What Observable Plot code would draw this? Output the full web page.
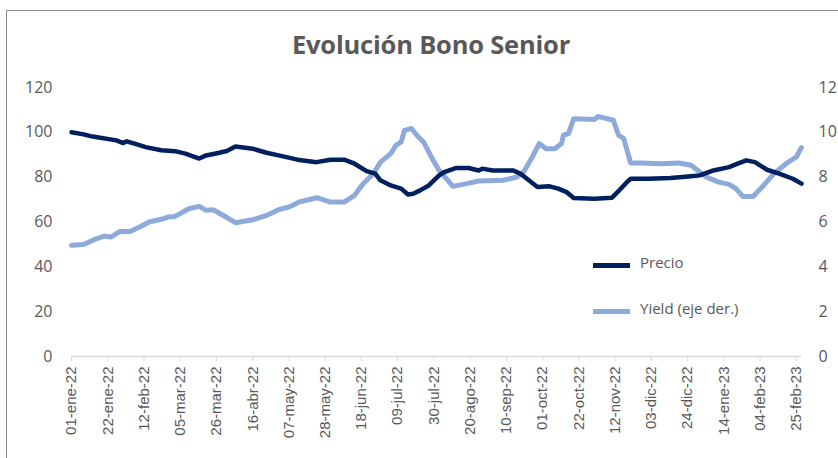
<!DOCTYPE html>
<html><head><meta charset="utf-8">
<script src="https://cdn.jsdelivr.net/npm/d3@7"></script>
<script src="https://cdn.jsdelivr.net/npm/@observablehq/plot@0.6"></script>
<style>
body{margin:0;background:#fff;}
#wrap{position:relative;width:838px;height:458px;overflow:hidden;}
#frame{position:absolute;left:6px;top:10px;width:900px;height:500px;border:1px solid #8c8c8c;box-sizing:border-box;}
#title{position:absolute;left:0;width:862px;top:27px;text-align:center;font:700 25.5px "Open Sans";color:#595959;white-space:nowrap;letter-spacing:-0.2px;}
#chart{position:absolute;left:0;top:0;}
.leg{position:absolute;left:593px;font:15px "Open Sans";color:#595959;white-space:nowrap;}
.leg span.bar{position:absolute;left:0;width:37px;height:5px;}
.leg span.txt{position:absolute;left:47px;top:-11px;}
</style></head><body>
<div id="wrap"><div id="frame"></div><div id="chart"></div><div id="title">Evolución Bono Senior</div></div>
<script>
const precioFechas = ["2022-01-01","2022-01-08","2022-01-12","2022-01-15","2022-01-27","2022-01-31","2022-02-02","2022-02-08","2022-02-13","2022-02-22","2022-03-02","2022-03-08","2022-03-16","2022-03-20","2022-03-27","2022-04-01","2022-04-06","2022-04-16","2022-04-24","2022-05-03","2022-05-12","2022-05-23","2022-05-31","2022-06-08","2022-06-14","2022-06-21","2022-06-26","2022-06-29","2022-07-05","2022-07-11","2022-07-15","2022-07-18","2022-07-22","2022-07-27","2022-08-02","2022-08-05","2022-08-12","2022-08-19","2022-08-25","2022-08-27","2022-09-02","2022-09-14","2022-09-18","2022-09-23","2022-09-28","2022-10-05","2022-10-10","2022-10-15","2022-10-19","2022-10-31","2022-11-10","2022-11-14","2022-11-18","2022-11-21","2022-12-01","2022-12-14","2022-12-26","2022-12-31","2023-01-08","2023-01-17","2023-01-22","2023-01-27","2023-02-01","2023-02-08","2023-02-15","2023-02-23","2023-02-28"];
const precioValores = [100,99.1,98.3,97.9,96.4,95.2,96.0,94.6,93.4,92.0,91.6,90.5,88.3,89.7,90.8,91.7,93.7,92.7,90.9,89.4,87.8,86.7,87.8,87.8,86.0,82.7,81.6,78.6,76.3,74.9,72.3,72.6,74.1,76.3,80.8,82.3,84.1,84.1,83.0,83.8,83.0,83.0,81.6,78.6,75.6,75.9,74.9,73.3,70.7,70.4,70.8,73.8,77.1,79.3,79.3,79.6,80.4,80.8,83.0,84.5,86.0,87.5,86.7,83.3,81.6,79.3,77.1];
const yieldFechas = ["2022-01-01","2022-01-08","2022-01-14","2022-01-20","2022-01-24","2022-01-29","2022-02-04","2022-02-10","2022-02-15","2022-02-22","2022-02-26","2022-03-02","2022-03-10","2022-03-16","2022-03-20","2022-03-24","2022-03-30","2022-04-06","2022-04-16","2022-04-24","2022-05-01","2022-05-07","2022-05-13","2022-05-23","2022-05-25","2022-05-31","2022-06-08","2022-06-14","2022-06-19","2022-06-25","2022-06-29","2022-07-05","2022-07-08","2022-07-11","2022-07-13","2022-07-17","2022-07-21","2022-07-24","2022-07-28","2022-08-02","2022-08-05","2022-08-10","2022-08-18","2022-08-25","2022-09-08","2022-09-16","2022-09-20","2022-09-25","2022-09-29","2022-10-03","2022-10-08","2022-10-12","2022-10-13","2022-10-16","2022-10-19","2022-10-31","2022-11-02","2022-11-11","2022-11-14","2022-11-17","2022-11-21","2022-11-27","2022-12-09","2022-12-19","2022-12-26","2023-01-04","2023-01-11","2023-01-17","2023-01-21","2023-01-25","2023-01-31","2023-02-06","2023-02-12","2023-02-19","2023-02-25","2023-02-28"];
const yieldValores = [4.96,5.0,5.21,5.37,5.33,5.58,5.58,5.80,6.0,6.12,6.22,6.25,6.59,6.70,6.52,6.55,6.29,5.97,6.10,6.29,6.55,6.67,6.89,7.08,7.04,6.89,6.89,7.19,7.71,8.16,8.67,9.05,9.42,9.57,10.09,10.17,9.79,9.57,8.97,8.30,8.04,7.59,7.71,7.83,7.86,8.00,8.23,8.90,9.50,9.27,9.27,9.50,9.87,9.94,10.61,10.57,10.71,10.54,9.87,9.72,8.63,8.63,8.60,8.63,8.53,8.00,7.78,7.68,7.49,7.14,7.14,7.63,8.16,8.60,8.90,9.32];
const tickFechas = ["2022-01-01","2022-01-22","2022-02-12","2022-03-05","2022-03-26","2022-04-16","2022-05-07","2022-05-28","2022-06-18","2022-07-09","2022-07-30","2022-08-20","2022-09-10","2022-10-01","2022-10-22","2022-11-12","2022-12-03","2022-12-24","2023-01-14","2023-02-04","2023-02-25"];
const tickEtiquetas = ["01-ene-22","22-ene-22","12-feb-22","05-mar-22","26-mar-22","16-abr-22","07-may-22","28-may-22","18-jun-22","09-jul-22","30-jul-22","20-ago-22","10-sep-22","01-oct-22","22-oct-22","12-nov-22","03-dic-22","24-dic-22","14-ene-23","04-feb-23","25-feb-23"];
const yTicksIzq = [0,20,40,60,80,100,120];
const yTicksDer = [0,2,4,6,8,10,12];
const seriesNombres = ["Precio","Yield (eje der.)"];
const seriesColores = ["#002060","#8eaadb"];
const titulo = "Evolución Bono Senior";

const precio = precioFechas.map((f,i)=>({fecha:new Date(f), valor:precioValores[i]}));
const yld = yieldFechas.map((f,i)=>({fecha:new Date(f), valor:yieldValores[i]}));
const ticks = tickFechas.map(f=>new Date(f));
const etiq = new Map(ticks.map((d,i)=>[+d, tickEtiquetas[i]]));

const chart = Plot.plot({
  width: 838, height: 458,
  marginLeft: 71, marginRight: 37, marginTop: 87, marginBottom: 102,
  style: {fontFamily: "Open Sans", fontSize: "16px", color: "#595959", background: "transparent"},
  x: {type: "utc", domain: [new Date("2022-01-01"), new Date("2023-02-28")]},
  y: {domain: [0, 120]},
  marks: [
    Plot.ruleY([0], {stroke: "#d9d9d9", strokeWidth: 1.5}),
    Plot.axisX(ticks, {tickRotate: -90, tickSize: 5, tickPadding: 5, stroke: "#d9d9d9",
      tickFormat: d => etiq.get(+d), fill: "#595959", fontFamily: "Liberation Sans", fontSize: 15,
      style: "letter-spacing:2.2px", label: null}),
    Plot.axisY(yTicksIzq, {anchor: "left", tickSize: 0, tickPadding: 19, label: null, fill: "#595959"}),
    Plot.axisY(yTicksDer.map(v => v * 10), {anchor: "right", tickSize: 0, tickPadding: 17, label: null, fill: "#595959",
      tickFormat: d => String(d / 10)}),
    Plot.line(yld, {x: "fecha", y: d => d.valor * 10, stroke: seriesColores[1], strokeWidth: 5, strokeLinejoin: "round"}),
    Plot.line(precio, {x: "fecha", y: "valor", stroke: seriesColores[0], strokeWidth: 4.5, strokeLinejoin: "round"})
  ]
});
document.getElementById("chart").appendChild(chart);
document.getElementById("title").textContent = titulo;

const wrap = document.getElementById("wrap");
seriesNombres.forEach((n, i) => {
  const el = document.createElement("div");
  el.className = "leg";
  el.style.top = (i === 0 ? 263 : 309) + "px";
  el.innerHTML = `<span class="bar" style="background:${seriesColores[i]}"></span><span class="txt">${n}</span>`;
  wrap.appendChild(el);
});
</script>
</body></html>
